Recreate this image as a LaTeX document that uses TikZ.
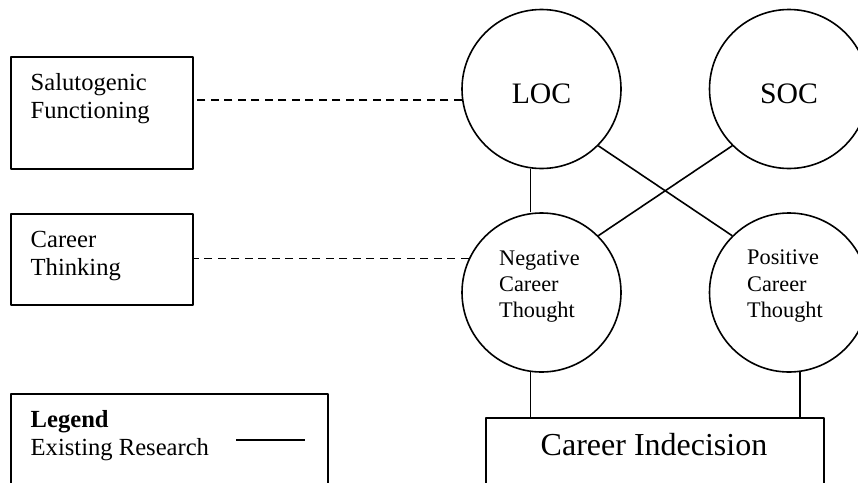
\documentclass[tikz,border=0pt]{standalone}
\usepackage{fontspec}
\setmainfont{Liberation Serif}
\usetikzlibrary{positioning}
\tikzset{
	box/.style={draw,line width=1.6pt,inner sep=0pt,anchor=north west},
	ring/.style={draw,circle,line width=1.6pt,minimum size=159pt,inner sep=0pt},
	side/.style={inner sep=0pt,anchor=north west,align=left,font=\fontsize{24.6}{28}\selectfont},
	thought/.style={inner sep=0pt,anchor=north west,align=left,font=\fontsize{22.3}{26.3}\selectfont},
	link/.style={line width=1.6pt},
	guess/.style={line width=1.6pt,dash pattern=on 8pt off 5.5pt}
}
\begin{document}
			\begin{tikzpicture}[x=1pt,y=-1pt,line join=round]
					\useasboundingbox (0,0) rectangle (858,482);
					%	boxes on the left
					\node[box,minimum width=182pt,minimum height=112pt] (salut) at (10,56) {};
					\node[box,minimum width=182pt,minimum height=91pt] (think) at (10,213) {};
					\node[box,minimum width=317pt,minimum height=120pt] (legend) at (10,393) {};
					\node[side] (saluttxt) at (30.5,73.2) {Salutogenic\\Functioning};
					\node[side] (thinktxt) at (30.5,231.4) {Career\\Thinking};
					\node[side] (legendtxt) at (30.5,410.4) {\textbf{Legend}\\Existing Research};
					\coordinate (keyA) at (236,440);
					\coordinate (keyB) at (305,440);
					\draw[link] (keyA)--(keyB);
					%	circles
					\foreach \n/\x/\y/\t in {loc/541.5/89/LOC, soc/789/89/SOC}
						\node[ring,font=\fontsize{29.7}{34}\selectfont,text height=29.7pt,text depth=0pt] (\n) at (\x,\y) {\t};
					\node[ring] (neg) at (541.5,292.5) {};
					\node[ring] (pos) at (789,292.5) {};
					\node[thought] (negtxt) at (499,250.2) {Negative\\Career\\Thought};
					\node[thought] (postxt) at (747,249.8) {Positive\\Career\\Thought};
					\node[box,minimum width=338pt,minimum height=110pt] (indec) at (485,417) {};
					\node[anchor=base,inner sep=0pt,font=\fontsize{32}{36}\selectfont] (indectxt) at (654,455) {Career Indecision};
					%	connectors
					\draw[link] (loc.262)--(loc.262 |- neg.north);
					\draw[link] (loc.-45)--(pos.135);
					\draw[link] (soc.225)--(neg.45);
					\draw[link] (neg.262)--(neg.262 |- indec.north);
					\draw[link] (pos.278)--(pos.278 |- indec.north);
					\draw[guess] (loc.188)--(loc.188 -| salut.east);
					\draw[guess] (neg.155)--(neg.155 -| think.east);
			\end{tikzpicture}
\end{document}
